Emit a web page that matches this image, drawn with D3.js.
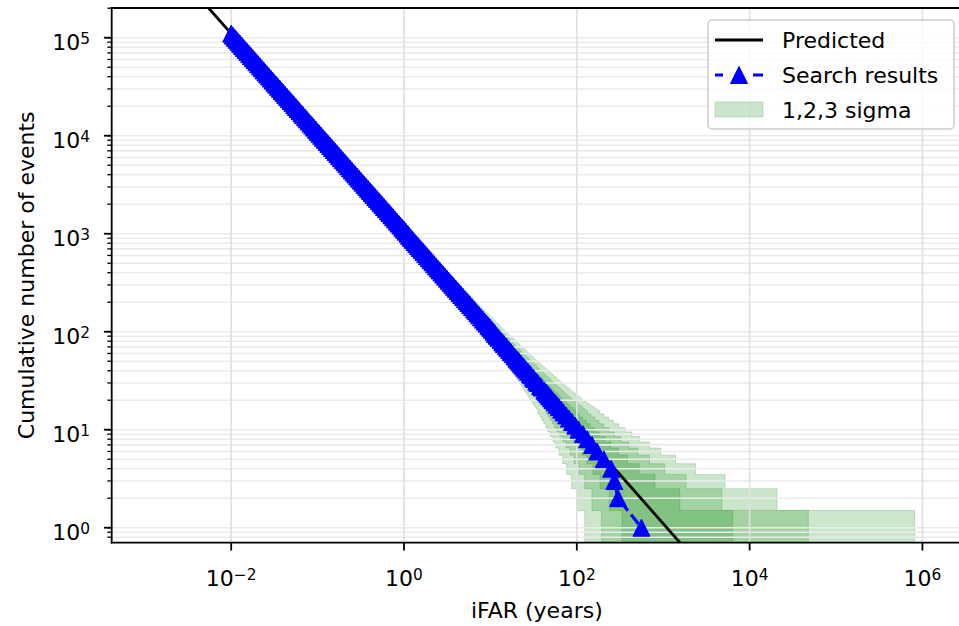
<!DOCTYPE html>
<html><head><meta charset="utf-8">
<script src="https://cdn.jsdelivr.net/npm/d3@7"></script>
<style>
body{margin:0;background:#fff}
svg{display:block}
text{font-family:"DejaVu Sans",sans-serif;fill:#000}
</style>
</head><body>
<svg id="chart" width="959" height="626"></svg>
<script>
// ---------------- data ----------------
// Search results: cumulative number of events above each iFAR (years)
const resultsCount = [110000,105000,100000,
  95300,90900,86600,82500,78700,75000,71500,68100,64900,61900,59000,56200,53600,51100,48700,46400,44200,42200,40200,38300,36500,34800,33200,31600,30100,28700,27400,26100,24900,23700,22600,21500,20500,19600,18700,17800,16900,16200,15400,14700,14000,13300,12700,12100,11500,11000,10500,10000,
  9530,9090,8660,8250,7870,7500,7150,6810,6490,6190,5900,5620,5360,5110,4870,4640,4420,4220,4020,3830,3650,3480,3320,3160,3010,2870,2740,2610,2490,2370,2260,2150,2050,1960,1870,1780,1690,1620,1540,1470,1400,1330,1270,1210,1150,1100,1050,1000,
  953,909,866,825,787,750,715,681,649,619,590,562,536,511,487,464,442,422,402,383,365,348,332,316,301,287,274,261,249,237,226,215,205,196,187,178,169,162,154,147,140,133,127,121,115,110,105,100,
  95,91,87,82,78,75,71,68,65,62,59,56,53,51,49,47,45,43,41,39,37,36,34,33,31,30,28,27,25,24,23,22,21,20,19,18,17,16,15,14,13,12,11,10,9,8,7,6,5,4,3,2,1];
const resultsIfar = [0.0100,0.010476,0.0110,
  0.01154,0.01210,0.01270,0.01333,0.01398,0.01467,0.01538,0.01615,0.01695,0.01777,0.01864,0.01957,0.02052,0.02153,0.02259,0.02371,0.02489,0.02607,0.02736,0.02872,0.03014,0.03161,0.03313,0.03481,0.03654,0.03833,0.04015,0.04215,0.04418,0.04641,0.04867,0.05116,0.05366,0.05612,0.05882,0.06180,0.06509,0.06790,0.07143,0.07483,0.07857,0.08271,0.08661,0.09091,0.09565,0.1000,0.10476,0.1100,
  0.1154,0.1210,0.1270,0.1333,0.1398,0.1467,0.1538,0.1615,0.1695,0.1777,0.1864,0.1957,0.2052,0.2153,0.2259,0.2371,0.2489,0.2607,0.2736,0.2872,0.3014,0.3161,0.3313,0.3481,0.3654,0.3833,0.4015,0.4215,0.4418,0.4641,0.4867,0.5116,0.5366,0.5612,0.5882,0.6180,0.6509,0.6790,0.7143,0.7483,0.7857,0.8271,0.8661,0.9091,0.9565,1.000,1.0476,1.100,
  1.144,1.199,1.259,1.321,1.385,1.453,1.524,1.601,1.680,1.761,1.847,1.939,2.034,2.133,2.238,2.349,2.466,2.583,2.711,2.846,2.986,3.132,3.283,3.449,3.621,3.798,3.978,4.177,4.378,4.599,4.823,5.070,5.317,5.561,5.829,6.124,6.450,6.728,7.078,7.415,7.786,8.196,8.583,9.009,9.478,9.909,10.38,10.90,
  11.3,11.8,12.35,13.1,13.75,14.3,15.1,15.7,16.5,17.2,18.1,19.0,20.0,20.9,21.7,22.6,23.6,24.7,25.9,27.2,28.6,29.4,31.0,32.0,34.0,35.2,37.6,39.0,42.2,44.0,46.0,48.0,50.2,52.5,55.5,58.5,62,66,70,75,81,88,96,105,118,132,150,172,205,250,272,300,560];

// Predicted background line (end points)
const predictedIfar = [0.0003, 20000];
const predictedCount = [3666667, 0.055];

// Error bands: smooth part [iFAR, count] and step break points (iFAR) for counts 15..1
const stepCounts = [15,14,13,12,11,10,9,8,7,6,5,4,3,2,1];

const upSmooth1 = [[1.136,1000],[2.303,500],[5.918,200],[12.22,100],[25.61,50],[44.80,30],[70.65,20]];
const upBreak1  = [98.44,106.7,116.5,128.1,142.1,159.5,181.5,210.1,248.7,303.9,387.3,527.4,804.4,1553.7,6367.6];
const loSmooth1 = [[1.065,1000],[2.102,500],[5.113,200],[9.907,100],[18.93,50],[30.11,30],[43.07,20]];
const loBreak1  = [55.13,58.43,62.18,66.45,71.38,77.13,83.94,92.13,102.2,114.9,131.3,153.8,186.2,237.2,333.4];

const upSmooth2 = [[1.173,1000],[2.411,500],[6.368,200],[13.58,100],[29.83,50],[54.81,30],[91.04,20]];
const upBreak2  = [132.8,145.7,161.3,180.2,203.7,233.5,272.5,325.4,400.4,510.9,694.9,1039.7,1845.6,4782.6,47805];
const loSmooth2 = [[1.033,1000],[2.012,500],[4.776,200],[9.011,100],[16.60,50],[25.52,30],[35.34,20]];
const loBreak2  = [44.08,46.41,49.03,51.98,55.34,59.21,63.71,69.01,75.38,83.20,93.05,105.9,123.6,149.6,193.6];

const upSmooth3 = [[1.212,1000],[2.525,500],[6.866,200],[15.15,100],[35.03,50],[68.05,30],[120.1,20]];
const upBreak3  = [185.1,206.4,232.4,264.9,306.6,361.4,433.1,536.6,691.8,934.6,1390.6,2360.5,5188.7,20794,814332];
const loSmooth3 = [[1.001,1000],[1.927,500],[4.468,200],[8.218,100],[14.64,50],[21.82,30],[29.35,20]];
const loBreak3  = [35.79,37.50,39.37,41.46,43.81,46.47,49.55,53.09,57.29,62.32,68.54,76.39,86.96,101.2,123.6];

const xTickValues = [1e-2,1e0,1e2,1e4,1e6];
const xTickExp = ["\u22122","0","2","4","6"];
const yTickValues = [1e0,1e1,1e2,1e3,1e4,1e5];
const yTickExp = ["0","1","2","3","4","5"];
const legendLabels = ["Predicted","Search results","1,2,3 sigma"];

// ---------------- layout ----------------
const svg = d3.select("#chart");
const L = 111.7, R = 962, T = 8, B = 542.7;
const x = d3.scaleLog().domain([Math.pow(10,-3.383), Math.pow(10,6.458)]).range([L, R]);
const y = d3.scaleLog().domain([0.703, 2.01e5]).range([B, T]);

svg.append("defs").append("clipPath").attr("id","clip")
  .append("rect").attr("x",L).attr("y",T).attr("width",R-L).attr("height",B-T);

const plot = svg.append("g").attr("clip-path","url(#clip)");

// bands
function bandVertices(upS, upB, loS, loB){
  const up = upS.slice();
  stepCounts.forEach((n,i)=>{ up.push([upB[i], n+0.5]); up.push([upB[i], n-0.5]); });
  const lo = loS.slice();
  stepCounts.forEach((k,i)=>{ lo.push([loB[i], k+0.5]); lo.push([loB[i], k-0.5]); });
  return up.concat(lo.reverse());
}
const bands = [
  bandVertices(upSmooth1, upBreak1, loSmooth1, loBreak1),
  bandVertices(upSmooth2, upBreak2, loSmooth2, loBreak2),
  bandVertices(upSmooth3, upBreak3, loSmooth3, loBreak3)
];
const poly = d3.line().x(d=>x(d[0])).y(d=>y(d[1]));
plot.selectAll("path.band").data(bands).enter().append("path")
  .attr("class","band")
  .attr("d", d=>poly(d)+"Z")
  .attr("fill","rgba(0,128,0,0.2)")
  .attr("stroke","rgba(0,128,0,0.2)")
  .attr("stroke-width",1);

// grid
const yMinor = [];
for (let e=-1; e<=5; e++) for (let m=1; m<=9; m++){ const v=m*Math.pow(10,e); if (v>=0.703 && v<=2.01e5) yMinor.push(v); }
plot.selectAll("line.hgrid").data(yMinor).enter().append("line")
  .attr("x1",L).attr("x2",R).attr("y1",d=>y(d)).attr("y2",d=>y(d))
  .attr("stroke","#ebebeb").attr("stroke-width",1.6);
plot.selectAll("line.vgrid").data(xTickValues).enter().append("line")
  .attr("y1",T).attr("y2",B).attr("x1",d=>x(d)).attr("x2",d=>x(d))
  .attr("stroke","#e0e0e0").attr("stroke-width",1.6);

// predicted line
plot.append("line")
  .attr("x1",x(predictedIfar[0])).attr("y1",y(predictedCount[0]))
  .attr("x2",x(predictedIfar[1])).attr("y2",y(predictedCount[1]))
  .attr("stroke","#000").attr("stroke-width",2.8);

// search results
const pts = resultsIfar.map((t,i)=>[t, resultsCount[i]]);
plot.append("path").attr("d", d3.line().x(d=>x(d[0])).y(d=>y(d[1]))(pts))
  .attr("fill","none").attr("stroke","#0000ff").attr("stroke-width",3.2)
  .attr("stroke-dasharray","12,5");
const triUp = { draw(ctx, size){ const h=Math.sqrt(size)/2; ctx.moveTo(0,-h); ctx.lineTo(h,h); ctx.lineTo(-h,h); ctx.closePath(); } };
const sym = d3.symbol().type(triUp).size(17*17);
plot.selectAll("path.mk").data(pts).enter().append("path")
  .attr("d", sym)
  .attr("transform", d=>`translate(${x(d[0])},${y(d[1])})`)
  .attr("fill","#0000ff").attr("stroke","#0000ff").attr("stroke-width",1);

// spines
const spine = svg.append("g").attr("stroke","#000").attr("stroke-width",1.8).attr("stroke-linecap","square");
spine.append("line").attr("x1",L).attr("x2",L).attr("y1",T).attr("y2",B);
spine.append("line").attr("x1",L).attr("x2",R).attr("y1",B).attr("y2",B);
spine.append("line").attr("x1",L).attr("x2",R).attr("y1",T).attr("y2",T);
spine.append("line").attr("x1",R).attr("x2",R).attr("y1",T).attr("y2",B);

// ticks
svg.selectAll("line.ymin").data(yMinor).enter().append("line")
  .attr("x1",L-4.4).attr("x2",L).attr("y1",d=>y(d)).attr("y2",d=>y(d))
  .attr("stroke","#000").attr("stroke-width",1.3);
svg.selectAll("line.ymaj").data(yTickValues).enter().append("line")
  .attr("x1",L-7.8).attr("x2",L).attr("y1",d=>y(d)).attr("y2",d=>y(d))
  .attr("stroke","#000").attr("stroke-width",1.8);
svg.selectAll("line.xmaj").data(xTickValues).enter().append("line")
  .attr("y1",B).attr("y2",B+7.8).attr("x1",d=>x(d)).attr("x2",d=>x(d))
  .attr("stroke","#000").attr("stroke-width",1.8);

function powLabel(sel, exp){
  sel.append("tspan").text("10");
  sel.append("tspan").attr("dy","-0.42em").attr("font-size","15.4px").text(exp);
}
xTickValues.forEach((v,i)=>{
  const t = svg.append("text").attr("x",x(v)).attr("y",586).attr("text-anchor","middle").attr("font-size","22px");
  powLabel(t, xTickExp[i]);
});
yTickValues.forEach((v,i)=>{
  const t = svg.append("text").attr("x",90).attr("y",y(v)+12.5).attr("text-anchor","end").attr("font-size","22px");
  powLabel(t, yTickExp[i]);
});

// axis labels
svg.append("text").attr("x",(L+R)/2).attr("y",618).attr("text-anchor","middle").attr("font-size","22px").text("iFAR (years)");
svg.append("text").attr("transform",`translate(34,${(T+B)/2}) rotate(-90)`).attr("text-anchor","middle").attr("font-size","22px").text("Cumulative number of events");

// legend
const lg = svg.append("g");
lg.append("rect").attr("x",708).attr("y",20).attr("width",246).attr("height",109).attr("rx",4)
  .attr("fill","rgba(255,255,255,0.8)").attr("stroke","#cccccc").attr("stroke-width",1.5);
lg.append("line").attr("x1",715).attr("x2",763).attr("y1",40).attr("y2",40).attr("stroke","#000").attr("stroke-width",2.8);
lg.append("line").attr("x1",715).attr("x2",763).attr("y1",75).attr("y2",75).attr("stroke","#0000ff").attr("stroke-width",3.2).attr("stroke-dasharray","8,30,10");
lg.append("path").attr("d",sym).attr("transform","translate(739,75)").attr("fill","#0000ff").attr("stroke","#0000ff").attr("stroke-width",1);
lg.append("rect").attr("x",715).attr("y",102).attr("width",48).attr("height",15)
  .attr("fill","rgba(0,128,0,0.2)").attr("stroke","rgba(0,128,0,0.2)").attr("stroke-width",1);
legendLabels.forEach((s,i)=>{
  lg.append("text").attr("x",782).attr("y",48+35*i).attr("font-size","22px").text(s);
});
</script>
</body></html>
